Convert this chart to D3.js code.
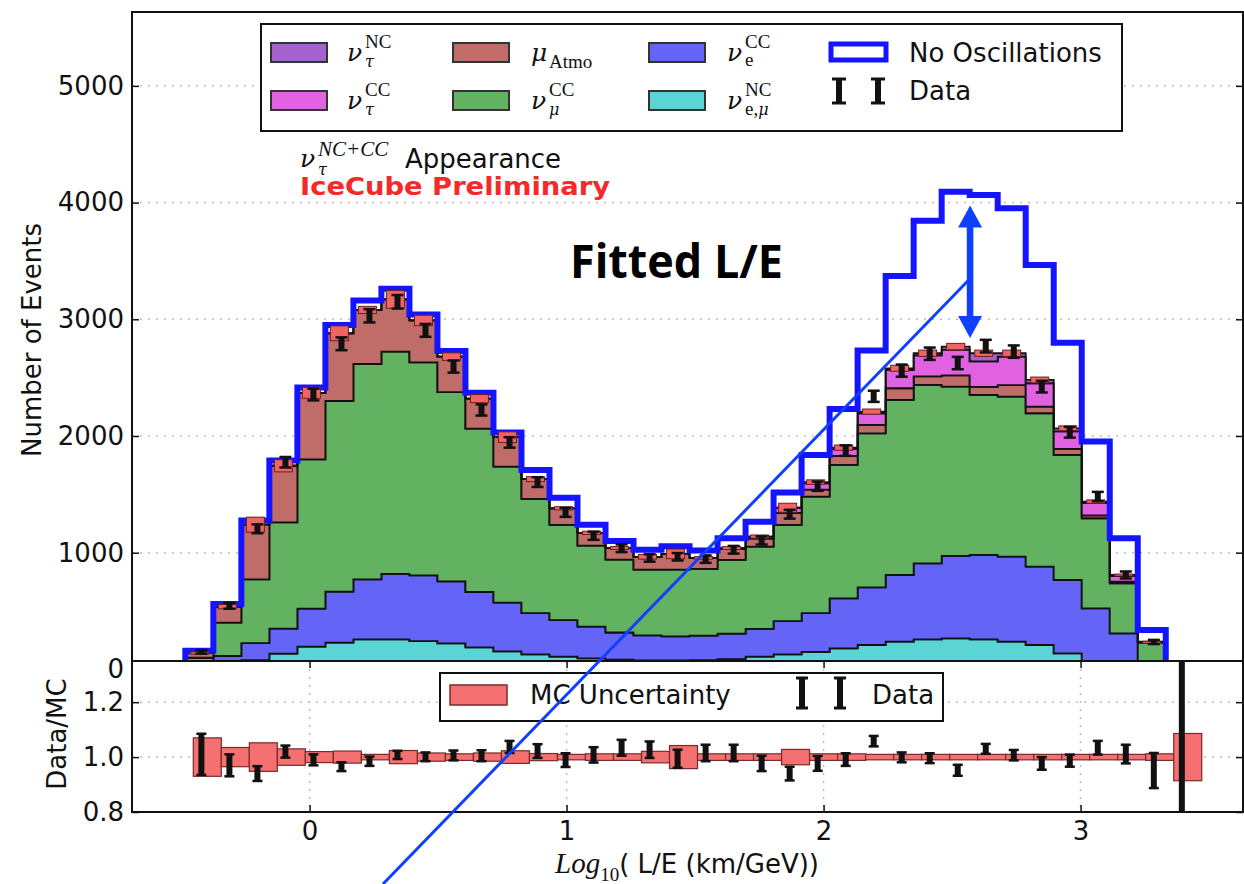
<!DOCTYPE html>
<html>
<head>
<meta charset="utf-8">
<script src="https://cdn.jsdelivr.net/npm/d3@7"></script>
<style>
body { margin: 0; background: #fff; }
text { font-family: "DejaVu Sans", sans-serif; }
.serif { font-family: "Liberation Serif", "DejaVu Serif", serif; }
.greek { font-family: "DejaVu Serif", serif; }
</style>
</head>
<body>
<svg id="chart" width="1244" height="884"></svg>
<script>
// histogram binning in log10(L/E)
var binStart = -0.4835, binWidth = 0.109;

// stacked MC components, bottom to top (events per bin)
var nuNC    = [10,30,80,135,195,229,258,258,243,223,189,155,128,109,95,83,78,77,80,88,109,128,150,181,209,238,258,266,258,238,209,138,60,15,5];
var nueCC   = [30,85,145,215,325,437,514,560,562,532,474,418,355,314,271,233,214,206,209,218,238,286,333,428,494,571,651,706,723,728,672,628,463,294,65];
var numuCC  = [60,285,547,910,1280,1634,1845,1905,1825,1621,1400,1165,979,815,694,624,563,572,573,632,705,824,997,1143,1320,1500,1529,1451,1371,1372,1314,1072,772,429,159];
var muAtmo  = [40,138,468,485,570,580,463,447,360,304,257,252,168,142,110,100,110,135,93,92,68,102,60,78,72,100,72,97,68,97,57,52,25,14,3];
var nutauCC = [0,0,0,0,0,0,0,0,0,0,0,0,0,0,0,0,0,0,0,10,18,45,55,60,100,156,180,220,220,245,200,150,105,48,4];
var nutauNC = [0,0,0,0,0,0,0,0,0,0,0,0,0,0,0,0,0,0,0,0,0,0,10,10,14,15,19,26,69,29,28,26,13,9,2];

var noOsc      = [160,560,1275,1790,2415,2951,3160,3262,3040,2729,2370,2030,1709,1470,1240,1100,1026,1055,1018,1123,1266,1515,1838,2232,2732,3371,3845,4093,4065,3951,3465,2800,1952,1123,338];
var dataCounts = [150,545,1205,1775,2355,2790,3030,3150,2905,2595,2223,1945,1605,1345,1145,1038,955,965,945,1025,1105,1330,1570,1875,2340,2560,2705,2625,2770,2723,2423,2032,1481,809,235];
var dataErr    = [15,25,38,45,50,55,57,58,55,52,48,45,42,38,35,33,32,32,32,33,35,38,40,45,48,52,53,53,54,53,50,46,40,30,18];

// lower panel: Data/MC and MC uncertainty (36 bins)
var ratioData = [1.01,0.97,0.94,1.02,0.99,0.965,0.985,1.008,1.001,1.006,1.005,1.037,1.022,0.989,1.008,1.034,1.027,0.994,1.015,1.015,0.977,0.94,0.977,0.991,1.058,0.999,0.996,0.952,1.03,1.007,0.977,0.987,1.034,1.011,0.951,1.0];
var ratioErr  = [0.075,0.04,0.027,0.022,0.02,0.016,0.017,0.015,0.016,0.018,0.02,0.022,0.025,0.025,0.028,0.029,0.03,0.033,0.03,0.03,0.028,0.025,0.027,0.023,0.019,0.018,0.018,0.02,0.018,0.019,0.023,0.022,0.025,0.034,0.064,0.6];
var mcUnc     = [0.07,0.035,0.052,0.03,0.02,0.022,0.01,0.024,0.015,0.012,0.015,0.023,0.013,0.01,0.012,0.012,0.021,0.042,0.012,0.012,0.012,0.028,0.012,0.012,0.01,0.01,0.01,0.01,0.01,0.01,0.01,0.01,0.01,0.01,0.012,0.086];

var yTicksMain = [0,1000,2000,3000,4000,5000];
var yTicksRatio = [0.8,1.0,1.2];
var xTicks = [0,1,2,3];

var keys = ['nuNC','nueCC','numuCC','muAtmo','nutauCC','nutauNC'];
var colors = {nuNC:'#5ad4d4', nueCC:'#6464f6', numuCC:'#62b262', muAtmo:'#c06c68', nutauCC:'#e062e0', nutauNC:'#a463cc'};

var pLeft = 132, pRight = 1243, pTop = 12, pMid = 661, pBottom = 812;

var svg = d3.select('#chart');

var x = d3.scaleLinear().domain([-0.691, 3.632]).range([pLeft, pRight]);
var y = d3.scaleLinear().domain([0, 5633]).range([669.4, pTop]);
var yr = d3.scaleLinear().domain([0.8, 1.35]).range([pBottom, pMid]);

var rows = nuNC.map(function(v, i){
	return {bin:i, nuNC:v, nueCC:nueCC[i], numuCC:numuCC[i], muAtmo:muAtmo[i], nutauCC:nutauCC[i], nutauNC:nutauNC[i]};
});
var series = d3.stack().keys(keys)(rows);
var totals = rows.map(function(r){ return d3.sum(keys, function(k){ return r[k]; }); });

function edge(i){ return binStart + i*binWidth; }
function center(i){ return binStart + (i+0.5)*binWidth; }

var defs = svg.append('defs');
defs.append('clipPath').attr('id','mainClip').append('rect')
	.attr('x', pLeft).attr('y', pTop).attr('width', pRight-pLeft).attr('height', pMid-pTop);
defs.append('clipPath').attr('id','ratioClip').append('rect')
	.attr('x', pLeft).attr('y', pMid).attr('width', pRight-pLeft).attr('height', pBottom-pMid);

// ---- main panel ----
var main = svg.append('g').attr('clip-path','url(#mainClip)');

main.selectAll('line.grid').data(yTicksMain.slice(1)).enter().append('line')
	.attr('x1', pLeft).attr('x2', pRight)
	.attr('y1', function(d){ return y(d); }).attr('y2', function(d){ return y(d); })
	.style('stroke','#bdbdbd').style('stroke-width',1.5).style('stroke-dasharray','2,6');

var area = d3.area()
	.x(function(d){ return x(d.x); })
	.y0(function(d){ return y(d.y0); })
	.y1(function(d){ return y(d.y1); });

main.selectAll('path.layer').data(series).enter().append('path')
	.attr('d', function(s){
		var pts = [];
		s.forEach(function(d, i){
			pts.push({x:edge(i), y0:d[0], y1:d[1]});
			pts.push({x:edge(i+1), y0:d[0], y1:d[1]});
		});
		return area(pts);
	})
	.style('fill', function(s){ return colors[s.key]; })
	.style('stroke','#111').style('stroke-width',1.8).style('stroke-linejoin','miter');

var stepPts = [[edge(0), 0]];
noOsc.forEach(function(v, i){ stepPts.push([edge(i), v]); stepPts.push([edge(i+1), v]); });
stepPts.push([edge(noOsc.length), 0]);
main.append('path')
	.attr('d', d3.line().x(function(d){ return x(d[0]); }).y(function(d){ return y(d[1]); })(stepPts))
	.style('fill','none').style('stroke','#1414ff').style('stroke-width',6).style('stroke-linejoin','miter');

// MC uncertainty boxes on stack top
main.selectAll('rect.unc').data(totals).enter().append('rect')
	.attr('x', function(d, i){ return x(center(i)) - 9; })
	.attr('width', 18)
	.attr('y', function(d, i){ return y(d*(1+mcUnc[i])); })
	.attr('height', function(d, i){ return Math.max(2, y(d*(1-mcUnc[i])) - y(d*(1+mcUnc[i]))); })
	.style('fill','#f06464').style('stroke','#6a2020').style('stroke-width',1);

function errorBar(g, cx, yTop, yBot, barW, capW, capH){
	g.append('rect').attr('x', cx-barW/2).attr('y', yTop).attr('width', barW).attr('height', Math.max(1, yBot-yTop)).style('fill','#111');
	g.append('rect').attr('x', cx-capW/2).attr('y', yTop-capH/2).attr('width', capW).attr('height', capH).style('fill','#111');
	g.append('rect').attr('x', cx-capW/2).attr('y', yBot-capH/2).attr('width', capW).attr('height', capH).style('fill','#111');
}

dataCounts.forEach(function(d, i){
	errorBar(main, x(center(i)+0.008), y(d+dataErr[i]), y(d-dataErr[i]), 6, 12, 2.5);
});

// main axes
svg.append('g').attr('transform','translate('+pLeft+',0)')
	.call(d3.axisLeft(y).tickValues(yTicksMain).tickFormat(d3.format('d')).tickSize(-7).tickPadding(8))
	.call(function(g){ g.select('.domain').remove(); });
svg.append('g').attr('transform','translate('+pRight+',0)')
	.call(d3.axisRight(y).tickValues(yTicksMain).tickSize(-7).tickFormat(''))
	.call(function(g){ g.select('.domain').remove(); });

svg.append('rect').attr('x', pLeft).attr('y', pTop).attr('width', pRight-pLeft).attr('height', pMid-pTop)
	.style('fill','none').style('stroke','#111').style('stroke-width',2);

// ---- ratio panel ----
svg.append('rect').attr('x', pLeft).attr('y', pMid).attr('width', pRight-pLeft).attr('height', pBottom-pMid)
	.style('fill','#fff');

var ratio = svg.append('g').attr('clip-path','url(#ratioClip)');

ratio.selectAll('line.hgrid').data([1.0, 1.2]).enter().append('line')
	.attr('x1', pLeft).attr('x2', pRight)
	.attr('y1', function(d){ return yr(d); }).attr('y2', function(d){ return yr(d); })
	.style('stroke','#bdbdbd').style('stroke-width',1.5).style('stroke-dasharray','2,6');
ratio.selectAll('line.vgrid').data(xTicks).enter().append('line')
	.attr('x1', function(d){ return x(d); }).attr('x2', function(d){ return x(d); })
	.attr('y1', pMid).attr('y2', pBottom)
	.style('stroke','#bdbdbd').style('stroke-width',1.5).style('stroke-dasharray','2,6');

var boxShift = 0.031;
ratio.selectAll('rect.mc').data(mcUnc).enter().append('rect')
	.attr('x', function(d, i){ return x(edge(i)+boxShift); })
	.attr('width', function(d, i){ return x(edge(i+1)) - x(edge(i)); })
	.attr('y', function(d){ return yr(1+d); })
	.attr('height', function(d){ return yr(1-d) - yr(1+d); })
	.style('fill','#f57070').style('stroke','#7a2a2a').style('stroke-width',1.2);

ratioData.forEach(function(d, i){
	errorBar(ratio, x(center(i)+0.008), yr(d+ratioErr[i]), yr(d-ratioErr[i]), 6, 10, 2.5);
});

svg.append('g').attr('transform','translate('+pLeft+',0)')
	.call(d3.axisLeft(yr).tickValues(yTicksRatio).tickFormat(d3.format('.1f')).tickSize(-7).tickPadding(8))
	.call(function(g){ g.select('.domain').remove(); });
svg.append('g').attr('transform','translate('+pRight+',0)')
	.call(d3.axisRight(yr).tickValues(yTicksRatio).tickSize(-7).tickFormat(''))
	.call(function(g){ g.select('.domain').remove(); });
svg.append('g').attr('transform','translate(0,'+pBottom+')')
	.call(d3.axisBottom(x).tickValues(xTicks).tickFormat(d3.format('d')).tickSize(-7).tickPadding(10))
	.call(function(g){ g.select('.domain').remove(); });
svg.append('g').attr('transform','translate(0,'+pMid+')')
	.call(d3.axisTop(x).tickValues(xTicks).tickSize(-7).tickFormat(''))
	.call(function(g){ g.select('.domain').remove(); });

svg.append('rect').attr('x', pLeft).attr('y', pMid).attr('width', pRight-pLeft).attr('height', pBottom-pMid)
	.style('fill','none').style('stroke','#111').style('stroke-width',2);

svg.selectAll('.tick text').style('font-size','26px').style('font-family','"DejaVu Sans", sans-serif').style('fill','#111');
svg.selectAll('.tick line').style('stroke','#111').style('stroke-width',1.5);

// axis labels
svg.append('text').attr('transform','translate(41,340) rotate(-90)')
	.attr('text-anchor','middle').style('font-size','26px').style('fill','#111').text('Number of Events');
svg.append('text').attr('transform','translate(66,734) rotate(-90)')
	.attr('text-anchor','middle').style('font-size','26px').style('fill','#111').text('Data/MC');

var xl = svg.append('text').attr('x', 555).attr('y', 873).style('font-size','26px').style('fill','#111');
xl.append('tspan').attr('class','serif').style('font-style','italic').style('font-size','29px').text('Log');
xl.append('tspan').attr('class','serif').attr('dy', 8).style('font-size','19px').text('10');
xl.append('tspan').attr('dy', -8).text('( L/E (km/GeV))');

// ---- legends ----
function mathLabel(g, x0, yb, base, sup, sub, supY, subY){
	g.append('text').attr('class','greek').attr('x', x0).attr('y', yb)
		.style('font-style','italic').style('font-size','25px').style('fill','#111').text(base);
	if (sup) g.append('text').attr('class','serif').attr('x', x0+18).attr('y', yb+supY)
		.style('font-size','19px').style('fill','#111').text(sup);
	if (sub){
		var t = g.append('text').attr('class','serif').attr('x', x0+18).attr('y', yb+subY)
			.style('font-size','19px').style('fill','#111');
		sub.forEach(function(p){
			t.append('tspan').attr('class', p[1] ? 'greek' : 'serif')
				.style('font-style', p[1] ? 'italic' : 'normal')
				.style('font-size', p[1] ? '16px' : '19px').text(p[0]);
		});
	}
}

var leg = svg.append('g');
leg.append('rect').attr('x', 261).attr('y', 24).attr('width', 861).attr('height', 107)
	.style('fill','#fff').style('stroke','#111').style('stroke-width',2);

var legPatches = [
	{key:'nutauNC', px:271, py:43},
	{key:'nutauCC', px:271, py:91},
	{key:'muAtmo',  px:453, py:43},
	{key:'numuCC',  px:453, py:91},
	{key:'nueCC',   px:649, py:43},
	{key:'nuNC',    px:649, py:91}
];
leg.selectAll('rect.patch').data(legPatches).enter().append('rect')
	.attr('x', function(d){ return d.px; }).attr('y', function(d){ return d.py; })
	.attr('width', 56).attr('height', 19)
	.style('fill', function(d){ return colors[d.key]; })
	.style('stroke','#333').style('stroke-width',2);

mathLabel(leg, 347, 61, 'ν', 'NC', [['τ',1]], -13, 6);
mathLabel(leg, 347, 109, 'ν', 'CC', [['τ',1]], -13, 6);
mathLabel(leg, 531, 61, 'μ', null, [['Atmo',0]], 0, 7);
mathLabel(leg, 531, 109, 'ν', 'CC', [['μ',1]], -13, 6);
mathLabel(leg, 727, 61, 'ν', 'CC', [['e',0]], -13, 5);
mathLabel(leg, 727, 109, 'ν', 'NC', [['e,',0],['μ',1]], -13, 6);

leg.append('rect').attr('x', 831).attr('y', 44).attr('width', 55).attr('height', 16)
	.style('fill','#fff').style('stroke','#1414ff').style('stroke-width',5);
errorBar(leg, 839, 79, 103, 6, 14, 3);
errorBar(leg, 878, 79, 103, 6, 14, 3);
leg.append('text').attr('x', 909).attr('y', 62).style('font-size','26px').style('fill','#111').text('No Oscillations');
leg.append('text').attr('x', 909).attr('y', 100).style('font-size','26px').style('fill','#111').text('Data');

var leg2 = svg.append('g');
leg2.append('rect').attr('x', 440).attr('y', 673).attr('width', 503).attr('height', 48)
	.style('fill','#fff').style('stroke','#111').style('stroke-width',2);
leg2.append('rect').attr('x', 450).attr('y', 685).attr('width', 57).attr('height', 20)
	.style('fill','#f57070').style('stroke','#7a2a2a').style('stroke-width',1.5);
leg2.append('text').attr('x', 530).attr('y', 704).style('font-size','26px').style('fill','#111').text('MC Uncertainty');
errorBar(leg2, 802, 678, 708, 6, 12, 3);
errorBar(leg2, 840, 678, 708, 6, 12, 3);
leg2.append('text').attr('x', 872).attr('y', 704).style('font-size','26px').style('fill','#111').text('Data');

// ---- annotations ----
mathLabel(svg, 300, 167, 'ν', null, [['τ',1]], 0, 8);
svg.append('text').attr('class','serif').attr('x', 318).attr('y', 156)
	.style('font-style','italic').style('font-size','21px').style('fill','#111').text('NC+CC');
svg.append('text').attr('x', 405).attr('y', 168).style('font-size','26px').style('fill','#111').text('Appearance');
svg.append('text').attr('x', 300).attr('y', 195)
	.attr('textLength', 310).attr('lengthAdjust','spacingAndGlyphs')
	.style('font-size','24px').style('font-weight','bold').style('fill','#f42a2a').text('IceCube Preliminary');
svg.append('text').attr('x', 570).attr('y', 278)
	.attr('textLength', 213).attr('lengthAdjust','spacingAndGlyphs')
	.style('font-family','"Open Sans", sans-serif').style('font-size','47px').style('font-weight','bold')
	.style('fill','#000').text('Fitted L/E');

var arrowX = 2.57, arrowTop = 3975, arrowBottom = 2840;
var ax = x(arrowX), ay1 = y(arrowTop), ay2 = y(arrowBottom);
var blue = '#1040ff';
svg.append('rect').attr('x', ax-3.3).attr('y', ay1+20).attr('width', 6.6).attr('height', ay2-ay1-40).style('fill', blue);
svg.append('path').attr('d', 'M'+ax+','+ay1+' L'+(ax+12)+','+(ay1+22)+' L'+(ax-12)+','+(ay1+22)+' Z').style('fill', blue);
svg.append('path').attr('d', 'M'+ax+','+ay2+' L'+(ax+12)+','+(ay2-22)+' L'+(ax-12)+','+(ay2-22)+' Z').style('fill', blue);

svg.append('line')
	.attr('x1', x(2.562)).attr('y1', y(3330))
	.attr('x2', 383).attr('y2', 884)
	.style('stroke', blue).style('stroke-width', 3);
</script>
</body>
</html>
